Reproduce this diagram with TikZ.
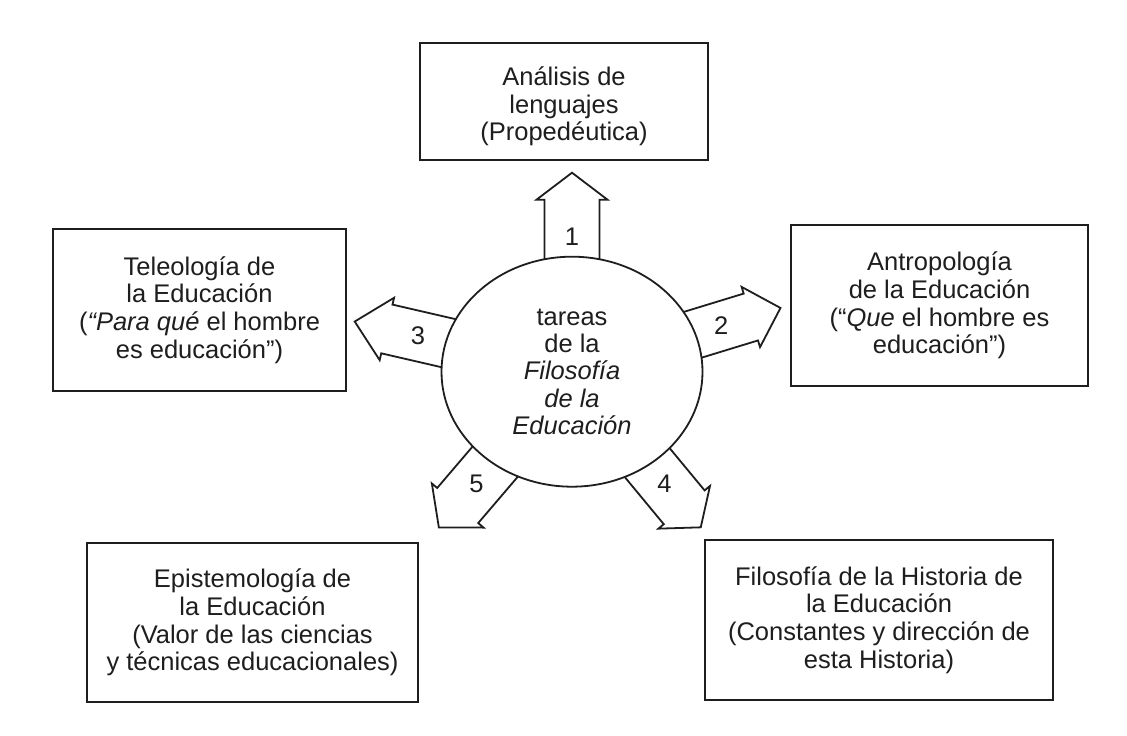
\documentclass[tikz,border=0pt]{standalone}
\usepackage{fontspec}
\setmainfont{Liberation Sans}
\definecolor{ink}{HTML}{1E1E1E}
\tikzset{
  box/.style={draw=ink, line width=2pt, align=center, text=ink, inner sep=0pt,
              font=\fontsize{25.5}{27.8}\selectfont},
  blockarrow/.style={draw=ink, line width=1.8pt, fill=white, line join=miter},
  numlabel/.style={text=ink, font=\fontsize{25.5}{27.5}\selectfont, inner sep=0pt},
  hub/.style={draw=ink, line width=1.8pt, fill=white, ellipse, minimum width=261pt,
              minimum height=230pt, align=center, text=ink, inner sep=0pt,
              font=\fontsize{25.5}{27.2}\selectfont}
}
\usetikzlibrary{shapes.geometric}
% #1 name, #2 angle, #3 shaft length, #4 head length, #5 half width, #6 barb, #7 label dist
\newcommand{\myblockarrow}[7]{%
  \begin{scope}[shift={(c)}, rotate=#2]
    \draw[blockarrow] (0,-#5) -- (#3,-#5) -- (#3,-#5-#6) -- (#3+#4,0)
      -- (#3,#5+#6) -- (#3,#5) -- (0,#5) -- cycle;
    \coordinate (#1) at (#7,0);
  \end{scope}
}
\begin{document}
\begin{tikzpicture}[x=1pt,y=1pt]
\useasboundingbox[fill=white] (0,0) rectangle (1127,736);
\coordinate (c) at (572,364.3);

% arrows (drawn first, the hub covers their inner ends)
\myblockarrow{l1}{90}{172}{27}{27.5}{8}{135}
\myblockarrow{l2}{17}{187}{31}{24.5}{7}{156}
\myblockarrow{l3}{167}{190}{33}{25}{7}{158}
\myblockarrow{l4}{-50.4}{176}{26}{26.5}{7}{145}
\myblockarrow{l5}{-130.5}{176}{29}{27}{7}{147}

\node[hub] (hub) at (c) {tareas\\de la\\\textit{Filosofía}\\\textit{de la}\\\textit{Educación}};

\node[numlabel] (n1) at (l1) {1};
\node[numlabel] (n2) at (l2) {2};
\node[numlabel] (n3) at (l3) {3};
\node[numlabel] (n4) at (l4) {4};
\node[numlabel] (n5) at (l5) {5};

% boxes
\node[box, minimum width=288pt, minimum height=117pt] (top) at (564,634.5)
  {\raisebox{-6pt}[\height][\depth]{\begin{tabular}{@{}c@{}}Análisis de\\lenguajes\\(Propedéutica)\end{tabular}}};
\node[box, minimum width=293pt, minimum height=162pt] (left) at (199.5,426)
  {Teleología de\\la Educación\\(\textit{“Para qué} el hombre\\es educación”)};
\node[box, minimum width=297pt, minimum height=161pt] (right) at (939.5,430.5)
  {Antropología\\de la Educación\\(“\textit{Que} el hombre es\\educación”)};
\node[box, minimum width=331pt, minimum height=159pt] (bl) at (252.5,113.5)
  {Epistemología de\\la Educación\\(Valor de las ciencias\\y técnicas educacionales)};
\node[box, minimum width=348pt, minimum height=160pt] (br) at (879,116)
  {Filosofía de la Historia de\\la Educación\\(Constantes y dirección de\\esta Historia)};
\end{tikzpicture}
\end{document}
